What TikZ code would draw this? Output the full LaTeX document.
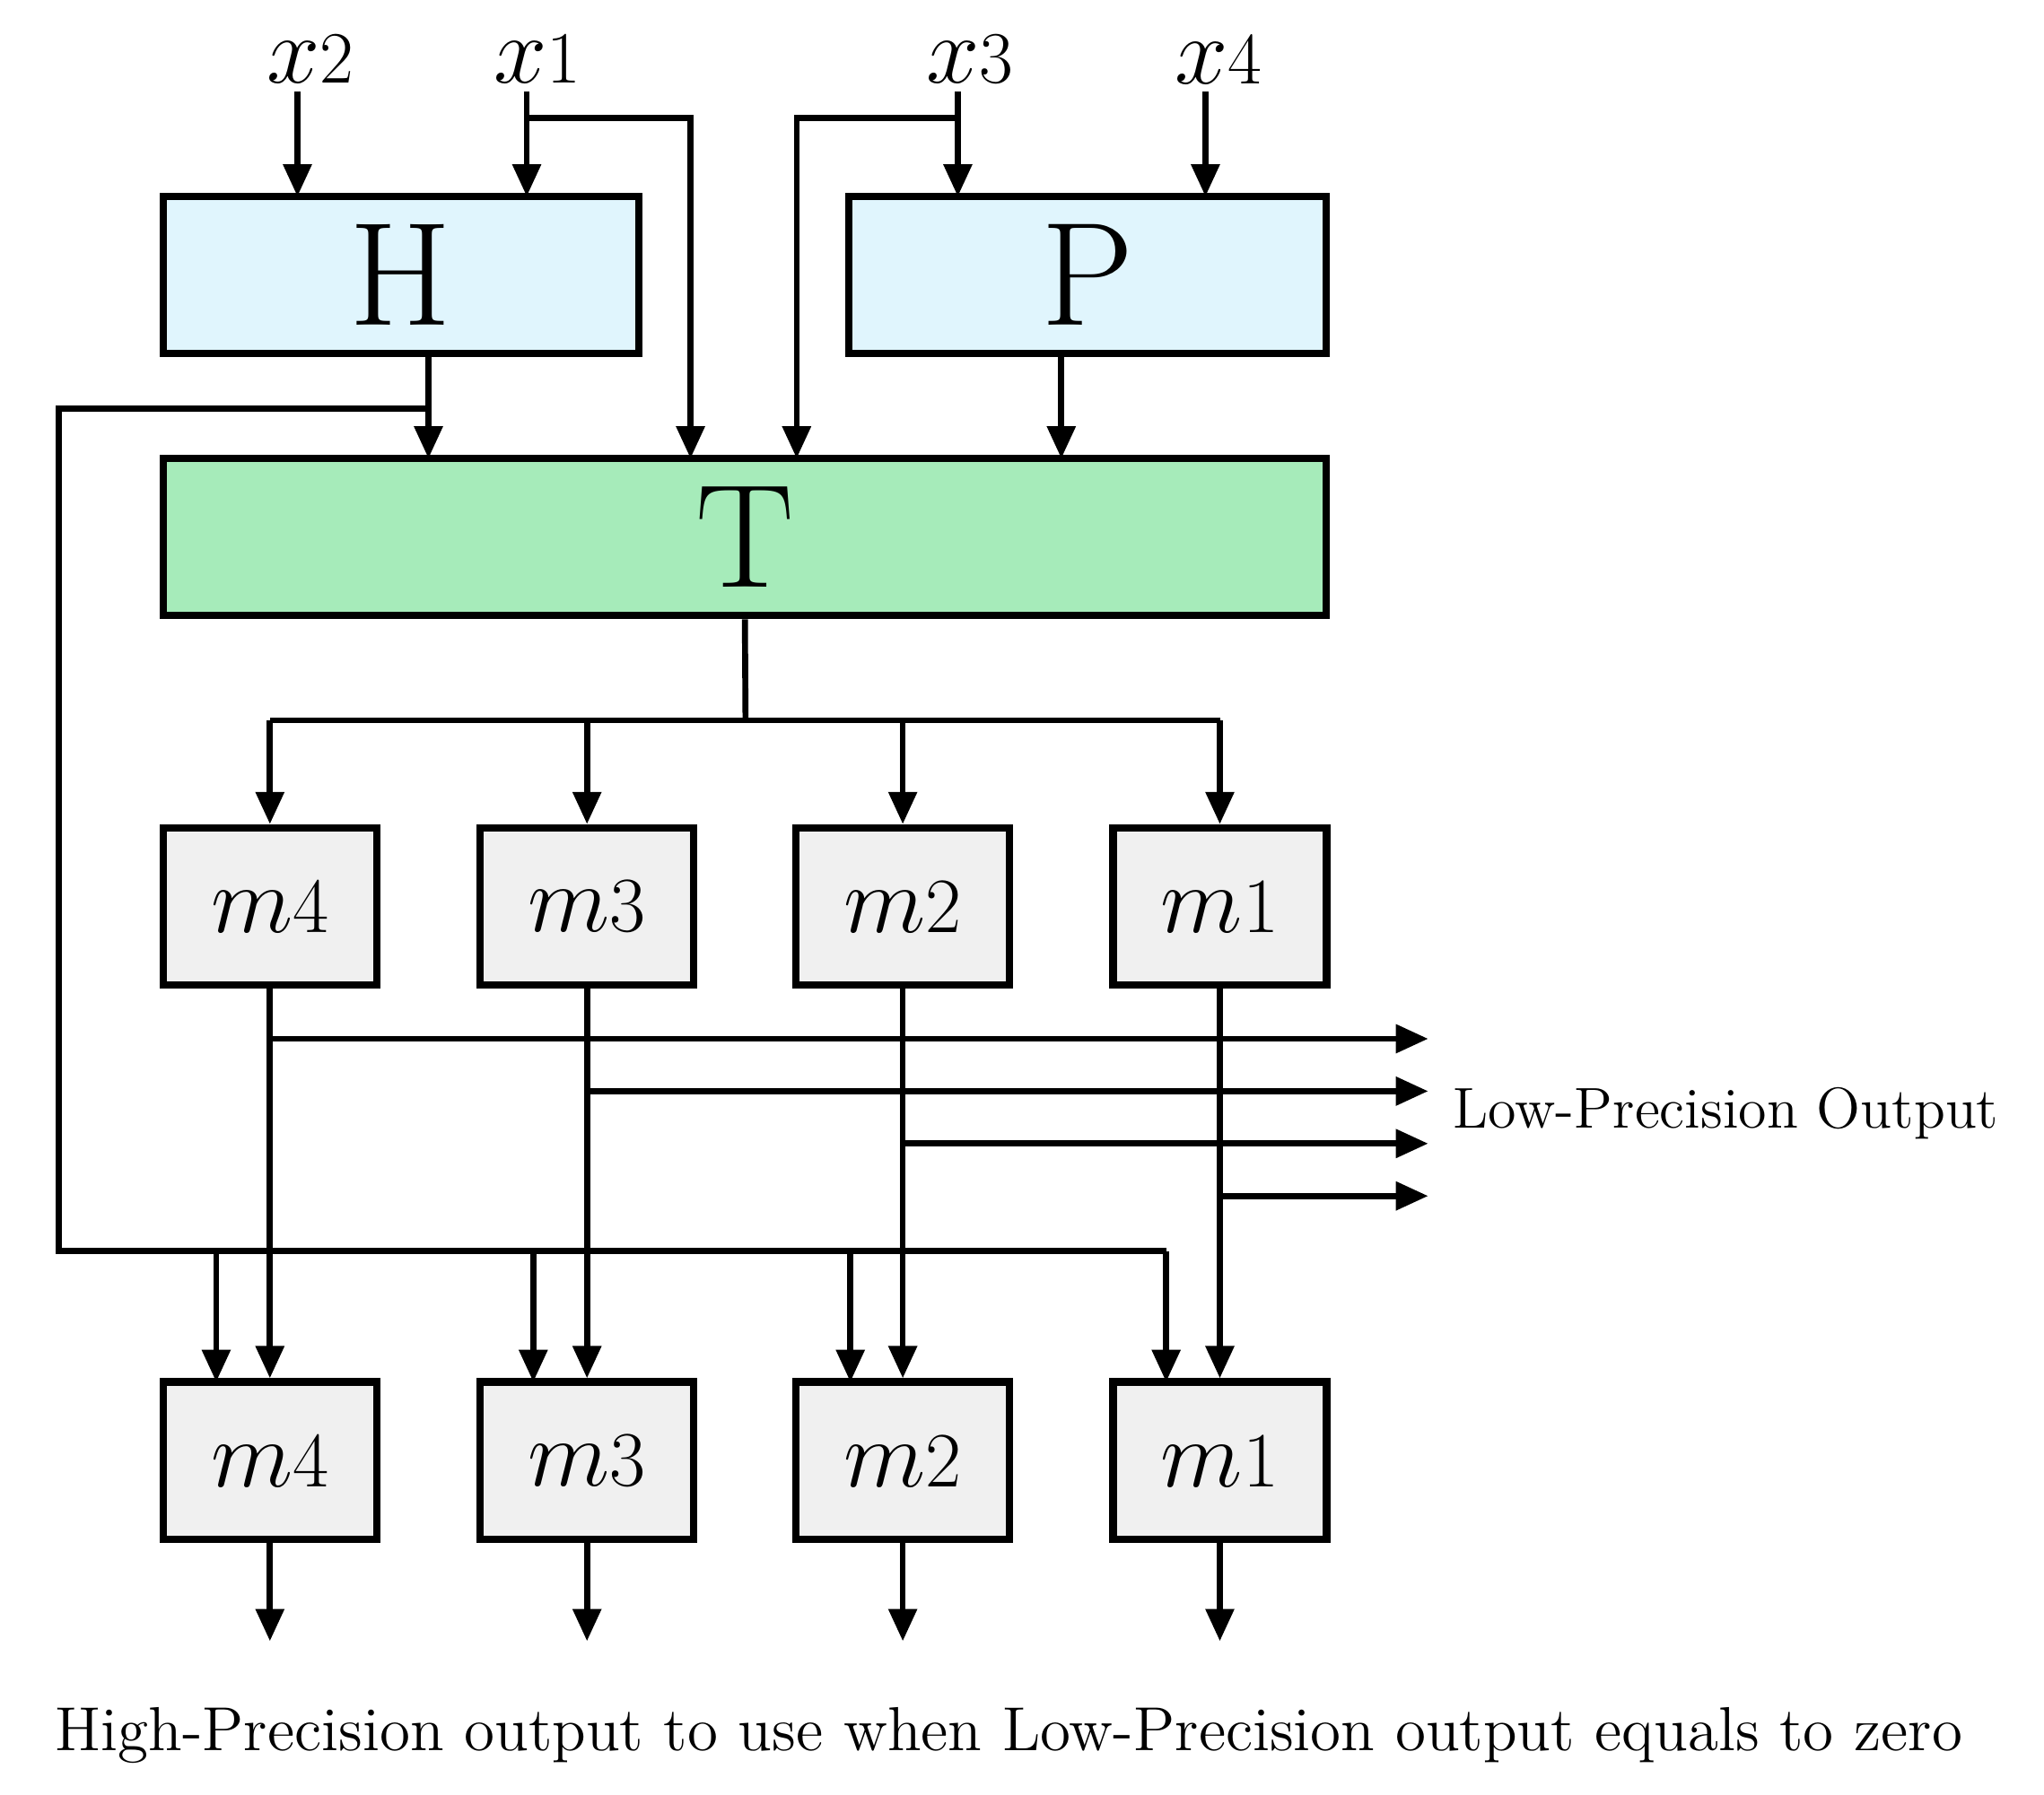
\documentclass[tikz,border=0pt]{standalone}
\usepackage{tikz}
\usetikzlibrary{arrows.meta,positioning}
\begin{document}
\begin{tikzpicture}[x=0.01cm,y=-0.01cm,line width=1.3pt,>={Triangle[length=7pt,width=6pt]},
  blk/.style={draw,line width=1.6pt,minimum height=1.2cm,inner sep=0pt},
  mblk/.style={blk,fill=gray!12,minimum width=1.63cm,font=\fontsize{22}{24}\selectfont},
  inp/.style={font=\fontsize{22}{24}\selectfont}]
  \useasboundingbox (0,0) rectangle (1560,1370);

  % The top blocks
  \node [blk,fill=cyan!12,minimum width=3.63cm,font=\fontsize{32}{34}\selectfont] at (306,210) (H) {H};
  \node [blk,fill=cyan!12,minimum width=3.64cm,font=\fontsize{32}{34}\selectfont] at (830,210) (P) {P};
  \node [blk,fill=green!55!teal!35,minimum width=8.87cm,font=\fontsize{32}{34}\selectfont] at (568.5,410) (T) {T};

  % Inputs
  \node [inp] at (237,45) (x2) {$x$\fontsize{16}{18}\selectfont 2};
  \node [inp] at (410,45) (x1) {$x$\fontsize{16}{18}\selectfont 1};
  \node [inp] at (740,45) (x3) {$x$\fontsize{16}{18}\selectfont 3};
  \node [inp] at (930,45) (x4) {$x$\fontsize{16}{18}\selectfont 4};

  % Middle and bottom m blocks
  \foreach \i/\x in {4/206,3/448,2/689,1/931} {
    \node [mblk] at (\x,692) (a\i) {$m$\fontsize{17}{19}\selectfont\i};
    \node [mblk] at (\x,1115) (b\i) {$m$\fontsize{17}{19}\selectfont\i};
  }
  \node [anchor=west,font=\fontsize{12.5}{15}\selectfont] at (1095,850) (lpo) {Low-Precision Output};
  \node [font=\fontsize{13.5}{16}\selectfont] at (770,1325) (cap) {High-Precision output to use when Low-Precision output equals to zero};

  % Input edges
  \draw[->] (227,70) -- (227,150);
  \draw[->] (402,70) -- (402,150);
  \draw[->] (731,70) -- (731,150);
  \draw[->] (920,70) -- (920,150);
  \draw[->] (402,90) -- (527,90) -- (527,350);
  \draw[->] (731,90) -- (608,90) -- (608,350);
  \draw[->] (H.south -| 327,0) -- (327,350);
  \draw[->] (P.south -| 810,0) -- (810,350);

  % T to m blocks
  \draw (T.south) -- (569,550);
  \draw (206,550) -- (931,550);
  \foreach \i in {1,...,4} \draw[->] (a\i.north |- 0,550) -- (a\i.north);

  % Low-precision
  \foreach \i/\y in {4/793,3/833,2/873,1/913} {
    \draw[->] (a\i.south) -- (b\i.north);
    \draw[->] (a\i.south |- 0,\y) -- (1090,\y);
  }

  % Feedback from H
  \draw (327,312) -- (45,312) -- (45,955) -- (890,955);
  \foreach \x in {165,407,649,890} \draw[->] (\x,955) -- (\x,1055);

  % Outputs
  \foreach \i in {1,...,4} \draw[->] (b\i.south) -- ++(0,75);
\end{tikzpicture}
\end{document}
